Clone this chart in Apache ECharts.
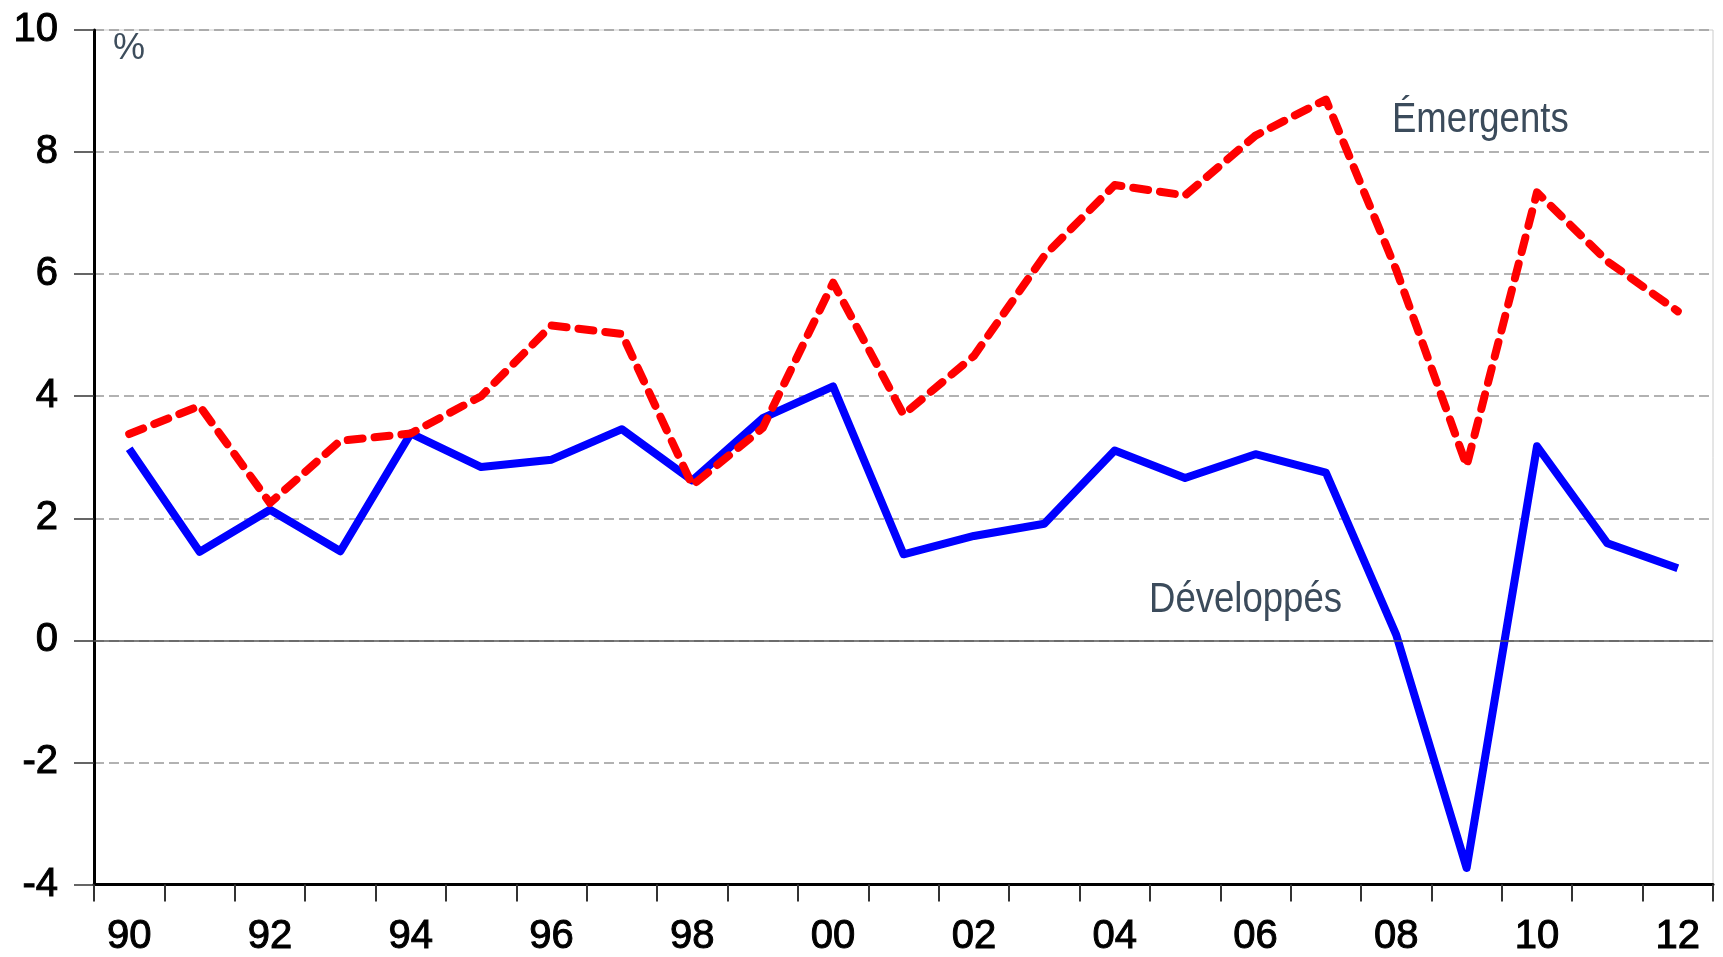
<!DOCTYPE html>
<html>
<head>
<meta charset="utf-8">
<title>Croissance</title>
<script src="https://cdn.jsdelivr.net/npm/echarts@6/dist/echarts.min.js"></script>
<style>
  html, body { margin: 0; padding: 0; background: #fff; }
  #main { width: 1723px; height: 957px; }
</style>
</head>
<body>
<div id="main"></div>
<script>
// années (2 chiffres)
const years = ['90', '91', '92', '93', '94', '95', '96', '97', '98', '99', '00', '01',
  '02', '03', '04', '05', '06', '07', '08', '09', '10', '11', '12'];
// Développés (%)
const developpes = [3.14, 1.45, 2.14, 1.46, 3.39, 2.84, 2.96, 3.46, 2.62, 3.64, 4.16, 1.41,
  1.71, 1.91, 3.11, 2.66, 3.05, 2.75, 0.09, -3.73, 3.18, 1.59, 1.18];
// Émergents (%)
const emergents = [3.38, 3.84, 2.25, 3.27, 3.39, 4.0, 5.16, 5.02, 2.54, 3.48, 5.86, 3.7,
  4.66, 6.3, 7.46, 7.29, 8.27, 8.86, 6.07, 2.86, 7.34, 6.21, 5.39];

const labelFont = 'Liberation Sans, Arial, sans-serif';

let chartDom = document.getElementById('main');
let myChart = echarts.init(chartDom);
let option = {
  animation: false,
  backgroundColor: '#fff',
  grid: {
    left: 94,
    right: 10,
    top: 30,
    bottom: 62,
    show: true,
    borderColor: '#cccccc',
    borderWidth: 1
  },
  xAxis: {
    type: 'category',
    data: years,
    boundaryGap: true,
    axisLine: { show: true, onZero: false, lineStyle: { color: '#000', width: 3 } },
    axisTick: { show: true, interval: 0, length: 17, inside: false, lineStyle: { color: '#333', width: 2 } },
    axisLabel: { interval: 1, margin: 32, color: '#000', fontSize: 40, fontFamily: labelFont,
      textBorderColor: '#000', textBorderWidth: 1 },
    splitLine: { show: false }
  },
  yAxis: {
    type: 'value',
    min: -4,
    max: 10,
    interval: 2,
    axisLine: { show: true, lineStyle: { color: '#000', width: 3 } },
    axisTick: { show: true, length: 20, lineStyle: { color: '#333', width: 1.5 } },
    axisLabel: { margin: 36, color: '#000', fontSize: 40, fontFamily: labelFont,
      textBorderColor: '#000', textBorderWidth: 1, padding: [0, 0, 12, 0] },
    splitLine: { show: true, lineStyle: { color: '#999', type: [10, 5], width: 1.5 } }
  },
  series: [
    {
      name: 'Développés',
      type: 'line',
      data: developpes,
      symbol: 'none',
      lineStyle: { color: '#0000ff', width: 8, join: 'round' },
      z: 3,
      markLine: {
        silent: true,
        symbol: 'none',
        label: { show: false },
        lineStyle: { color: '#555', type: 'solid', width: 1.5 },
        data: [{ yAxis: 0 }]
      }
    },
    {
      name: 'Émergents',
      type: 'line',
      data: emergents,
      symbol: 'none',
      lineStyle: { color: '#ff0000', width: 8, type: [15, 12], cap: 'round', join: 'round' },
      z: 4
    }
  ],
  graphic: [
    {
      type: 'text', x: 113, y: 31,
      style: { text: '%', fill: '#3d4d5c', font: '36px ' + labelFont, verticalAlign: 'top' }
    },
    {
      type: 'text', x: 1392, y: 99, scaleX: 0.87,
      style: { text: 'Émergents', fill: '#3b4b5b', font: '42px ' + labelFont, verticalAlign: 'top' }
    },
    {
      type: 'text', x: 1149, y: 579, scaleX: 0.87,
      style: { text: 'Développés', fill: '#3b4b5b', font: '42px ' + labelFont, verticalAlign: 'top' }
    }
  ]
};
option && myChart.setOption(option);
</script>
</body>
</html>
